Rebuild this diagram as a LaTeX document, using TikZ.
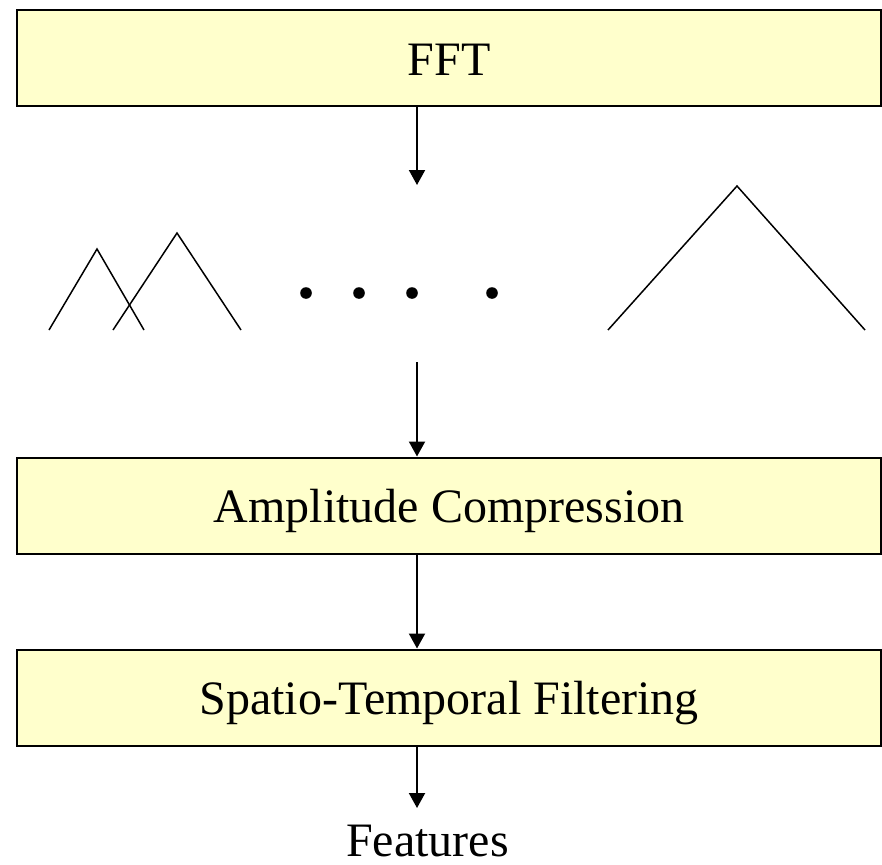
\documentclass[tikz,border=0pt]{standalone}
\usepackage{fontspec}
\setmainfont{Liberation Serif}
\usetikzlibrary{arrows.meta}
\definecolor{boxfill}{HTML}{FFFFCC}
\begin{document}
\begin{tikzpicture}[x=1pt,y=-1pt,
  blk/.style={draw=black, line width=2pt, fill=boxfill, minimum width=864pt, minimum height=96pt,
    inner sep=0pt, text height=34.8pt, text depth=0pt, font=\fontsize{48}{58}\selectfont},
  arr/.style={line width=2pt, -{Triangle[width=16pt,length=15pt]}},
  wave/.style={line width=1.5pt, line join=miter},
  dotmark/.style={fill=black},
  lbl/.style={inner sep=0pt, font=\fontsize{48}{58}\selectfont}]
\useasboundingbox (0,0) rectangle (882,864);

% boxes
\node[blk] (fft) at (449,58) {FFT};
\node[blk] (ac) at (449,505.5) {Amplitude Compression};
\node[blk] (st) at (449,697.5) {Spatio-Temporal Filtering};
\node[lbl, anchor=base] (feat) at (427.5,856) {Features};

% arrow helper coordinates
\coordinate (ax) at (417,0);
\coordinate (wtip) at (417,185);
\coordinate (wtop) at (417,362);
\coordinate (ftip) at (417,808);

% filter bank triangles
\draw[wave] (49,330) -- (97,249) -- (144,330);
\draw[wave] (113,330) -- (177,233) -- (241,330);
\draw[wave] (608,330) -- (737,186) -- (865,330);

% dots
\fill[dotmark] (306,293) circle[radius=5.8];
\fill[dotmark] (359,293) circle[radius=5.8];
\fill[dotmark] (412,293) circle[radius=5.8];
\fill[dotmark] (492,293) circle[radius=5.8];

% connectors
\draw[arr] (fft.south -| ax) -- (wtip);
\draw[arr] (wtop) -- (ac.north -| ax);
\draw[arr] (ac.south -| ax) -- (st.north -| ax);
\draw[arr] (st.south -| ax) -- (ftip);
\end{tikzpicture}
\end{document}
